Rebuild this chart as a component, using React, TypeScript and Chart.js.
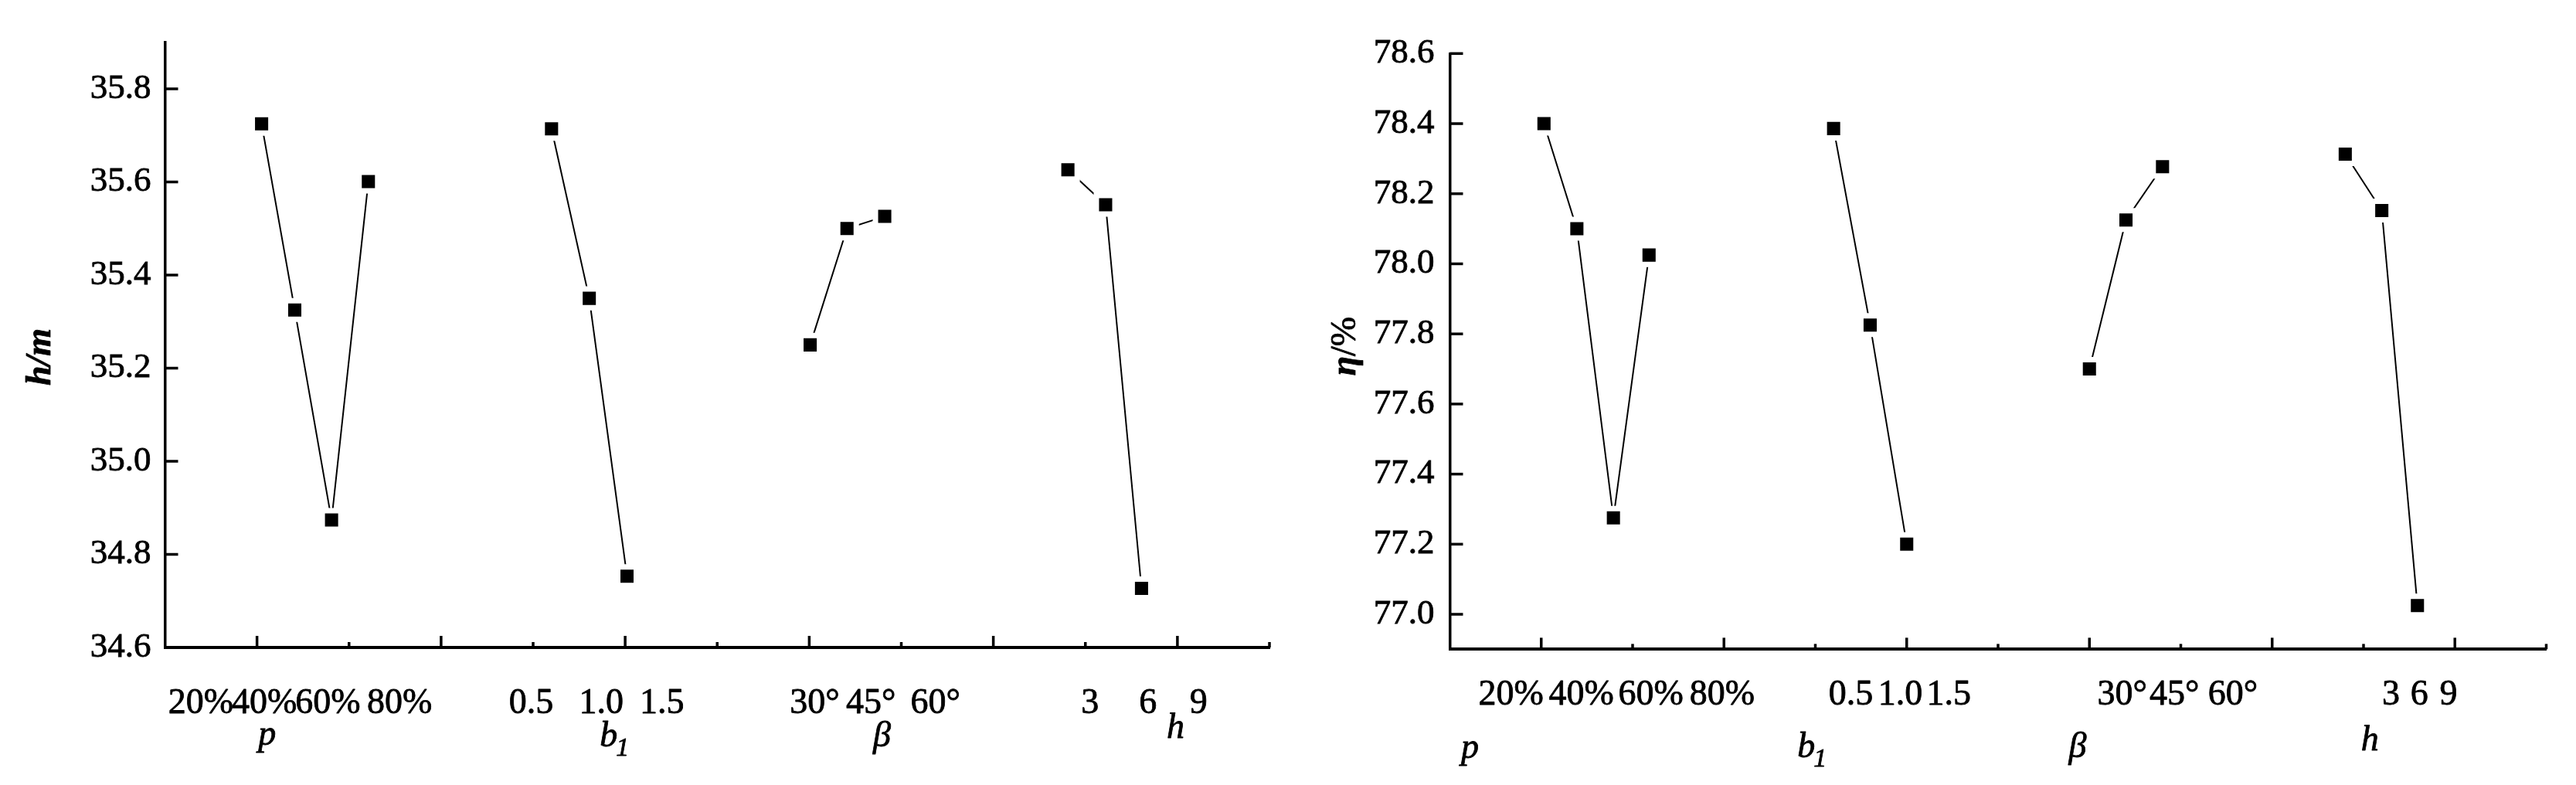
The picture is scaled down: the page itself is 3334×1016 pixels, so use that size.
import React, { useEffect, useRef } from 'react';
import { Chart, registerables } from 'chart.js';

Chart.register(...registerables);

// ---------------- Data ----------------
// Level labels of the four factors
const pLevels = ['20%', '40%', '60%', '80%'];
const b1Levels = ['0.5', '1.0', '1.5'];
const betaLevels = ['30°', '45°', '60°'];
const hLevels = ['3', '6', '9'];

// Y tick values
const headYTicks = [34.6, 34.8, 35.0, 35.2, 35.4, 35.6, 35.8];
const effYTicks = [77.0, 77.2, 77.4, 77.6, 77.8, 78.0, 78.2, 78.4, 78.6];

// Left chart: head h/m (x in axis units, y values)
const headPX = [1.05, 1.41, 1.81, 2.21];
const headPY = [35.725, 35.325, 34.874, 35.601];
const headB1X = [4.2, 4.61, 5.02];
const headB1Y = [35.714, 35.35, 34.753];
const headBetaX = [7.01, 7.41, 7.82];
const headBetaY = [35.25, 35.5, 35.526];
const headHX = [9.81, 10.22, 10.61];
const headHY = [35.626, 35.551, 34.727];

// Right chart: efficiency η/%
const effPX = [1.03, 1.39, 1.79, 2.18];
const effPY = [78.4, 78.1, 77.275, 78.025];
const effB1X = [4.2, 4.6, 5.0];
const effB1Y = [78.386, 77.825, 77.2];
const effBetaX = [7.0, 7.4, 7.8];
const effBetaY = [77.7, 78.125, 78.277];
const effHX = [9.8, 10.2, 10.59];
const effHY = [78.313, 78.152, 77.025];

// ---------------- Styling / layout ----------------
const SERIF = '"Liberation Serif", "Times New Roman", serif';
const HALF = 1667;
const TEXT_STROKE = 0.8;

type Seg = { text: string; font: string };
type Title = { text: string; sub?: string; x: number; base: number };
type Cfg = {
  series: [number[], number[]][];
  yMin: number;
  yMax: number;
  yTicks: number[];
  yAxisWidth: number;
  xAxisHeight: number;
  padTop: number;
  padRight: number;
  tickPad: number;
  levelGroups: { labels: string[]; pos: number[] }[];
  levelBase: number;
  titles: Title[];
  yTitle: { x: number; y: number; segs: Seg[] };
};

function drawText(ctx: CanvasRenderingContext2D, s: string, x: number, y: number) {
  ctx.fillText(s, x, y);
  ctx.strokeText(s, x, y);
}

function overlayPlugin(cfg: Cfg) {
  return {
    id: 'overlay',
    afterDraw(chart: any) {
      const ctx: CanvasRenderingContext2D = chart.ctx;
      const xs = chart.scales.x;
      const ys = chart.scales.y;
      const area = chart.chartArea;
      ctx.save();
      ctx.strokeStyle = '#000';
      ctx.fillStyle = '#000';
      ctx.lineWidth = 3.5;
      ctx.lineCap = 'butt';
      // inward y ticks
      ys.ticks.forEach((t: any) => {
        if (t.value <= ys.min + 1e-9) return;
        const y = ys.getPixelForValue(t.value);
        ctx.beginPath();
        ctx.moveTo(area.left, y);
        ctx.lineTo(area.left + 17, y);
        ctx.stroke();
      });
      // inward x ticks
      for (let i = 1; i <= 12; i++) {
        const x = xs.getPixelForValue(i);
        const len = i % 2 === 1 ? 15 : 7;
        ctx.beginPath();
        ctx.moveTo(x, area.bottom);
        ctx.lineTo(x, area.bottom - len);
        ctx.stroke();
      }
      ctx.lineWidth = TEXT_STROKE;
      ctx.lineJoin = 'round';
      // level labels
      ctx.font = `46px ${SERIF}`;
      ctx.textAlign = 'center';
      ctx.textBaseline = 'alphabetic';
      cfg.levelGroups.forEach((g) => {
        g.labels.forEach((lab, i) => {
          drawText(ctx, lab, xs.getPixelForValue(g.pos[i]), cfg.levelBase);
        });
      });
      // factor titles
      cfg.titles.forEach((t) => {
        const cx = xs.getPixelForValue(t.x);
        ctx.font = `italic 46px ${SERIF}`;
        if (!t.sub) {
          ctx.textAlign = 'center';
          drawText(ctx, t.text, cx, t.base);
        } else {
          ctx.textAlign = 'left';
          const w = ctx.measureText(t.text).width;
          drawText(ctx, t.text, cx - w / 2, t.base);
          ctx.font = `italic 34px ${SERIF}`;
          drawText(ctx, t.sub, cx + w / 2 - 2, t.base + 12);
        }
      });
      // rotated y title
      const yt = cfg.yTitle;
      ctx.translate(yt.x, yt.y);
      ctx.rotate(-Math.PI / 2);
      ctx.textBaseline = 'middle';
      ctx.textAlign = 'left';
      let total = 0;
      yt.segs.forEach((s) => {
        ctx.font = s.font;
        total += ctx.measureText(s.text).width;
      });
      let px = -total / 2;
      yt.segs.forEach((s) => {
        ctx.font = s.font;
        drawText(ctx, s.text, px, 0);
        px += ctx.measureText(s.text).width;
      });
      ctx.restore();
    },
  };
}

function buildChart(canvas: HTMLCanvasElement, cfg: Cfg) {
  const datasets = cfg.series.map(([xs, ys]) => ({
    data: xs.map((x, i) => ({ x, y: ys[i] })),
    borderColor: '#000',
    borderWidth: 2,
    backgroundColor: '#000',
    pointStyle: 'rect' as const,
    pointRadius: 17,
    pointBorderWidth: 7,
    pointBorderColor: '#fff',
    pointBackgroundColor: '#000',
    showLine: true,
    tension: 0,
    fill: false,
  }));
  return new Chart(canvas, {
    type: 'scatter',
    data: { datasets },
    options: {
      animation: false,
      responsive: false,
      maintainAspectRatio: false,
      layout: { padding: { left: 0, right: cfg.padRight, top: cfg.padTop, bottom: 0 } },
      plugins: { legend: { display: false }, tooltip: { enabled: false }, title: { display: false } },
      scales: {
        x: {
          type: 'linear',
          min: 0,
          max: 12,
          grid: { display: false, drawTicks: false },
          border: { display: true, color: '#000', width: 4 },
          ticks: { display: false },
          afterFit: (s: any) => {
            s.height = cfg.xAxisHeight;
          },
        },
        y: {
          type: 'linear',
          min: cfg.yMin,
          max: cfg.yMax,
          grid: { display: false, drawTicks: false },
          border: { display: true, color: '#000', width: 3.5 },
          ticks: {
            color: '#000',
            padding: cfg.tickPad,
            font: { family: SERIF, size: 45 },
            textStrokeColor: '#000',
            textStrokeWidth: TEXT_STROKE,
            callback: (v: any) => Number(v).toFixed(1),
          },
          afterBuildTicks: (s: any) => {
            s.ticks = cfg.yTicks.map((v) => ({ value: v }));
          },
          afterFit: (s: any) => {
            s.width = cfg.yAxisWidth;
          },
        },
      },
    },
    plugins: [overlayPlugin(cfg)],
  } as any);
}

const leftCfg: Cfg = {
  series: [
    [headPX, headPY],
    [headB1X, headB1Y],
    [headBetaX, headBetaY],
    [headHX, headHY],
  ],
  yMin: 34.6,
  yMax: 35.9,
  yTicks: headYTicks,
  yAxisWidth: 213.5,
  xAxisHeight: 178,
  padTop: 54.75,
  padRight: 15,
  tickPad: 18,
  levelGroups: [
    { labels: pLevels, pos: [0.39, 1.08, 1.77, 2.55] },
    { labels: b1Levels, pos: [3.98, 4.74, 5.4] },
    { labels: betaLevels, pos: [7.06, 7.67, 8.37] },
    { labels: hLevels, pos: [10.05, 10.68, 11.23] },
  ],
  levelBase: 923,
  titles: [
    { text: 'p', x: 1.11, base: 964 },
    { text: 'b', sub: '1', x: 4.82, base: 966 },
    { text: 'β', x: 7.79, base: 966 },
    { text: 'h', x: 10.98, base: 955 },
  ],
  yTitle: { x: 53.5, y: 462, segs: [{ text: 'h/m', font: `italic bold 46px ${SERIF}` }] },
};

const rightCfg: Cfg = {
  series: [
    [effPX, effPY],
    [effB1X, effB1Y],
    [effBetaX, effBetaY],
    [effHX, effHY],
  ],
  yMin: 76.9,
  yMax: 78.6,
  yTicks: effYTicks,
  yAxisWidth: 209.5,
  xAxisHeight: 175.6,
  padTop: 69.3,
  padRight: 38.5,
  tickPad: 20,
  levelGroups: [
    { labels: pLevels, pos: [0.67, 1.44, 2.2, 2.98] },
    { labels: b1Levels, pos: [4.39, 4.93, 5.46] },
    { labels: betaLevels, pos: [7.36, 7.93, 8.57] },
    { labels: hLevels, pos: [10.3, 10.61, 10.93] },
  ],
  levelBase: 912,
  titles: [
    { text: 'p', x: 0.22, base: 981 },
    { text: 'b', sub: '1', x: 3.9, base: 980 },
    { text: 'β', x: 6.87, base: 980 },
    { text: 'h', x: 10.07, base: 971 },
  ],
  yTitle: {
    x: 75,
    y: 448,
    segs: [
      { text: 'η', font: `italic bold 46px ${SERIF}` },
      { text: '/%', font: `46px ${SERIF}` },
    ],
  },
};

function ChartCanvas({ cfg, left }: { cfg: Cfg; left: number }) {
  const ref = useRef<HTMLCanvasElement | null>(null);
  useEffect(() => {
    if (!ref.current) return;
    const chart = buildChart(ref.current, cfg);
    return () => chart.destroy();
  }, [cfg]);
  return (
    <canvas
      ref={ref}
      width={HALF}
      height={1016}
      style={{ position: 'absolute', left, top: 0, width: HALF, height: 1016, display: 'block' }}
    />
  );
}

export default function App() {
  return (
    <div style={{ position: 'absolute', left: 0, top: 0, width: 3334, height: 1016, background: '#fff', overflow: 'hidden' }}>
      <ChartCanvas cfg={leftCfg} left={0} />
      <ChartCanvas cfg={rightCfg} left={HALF} />
    </div>
  );
}
